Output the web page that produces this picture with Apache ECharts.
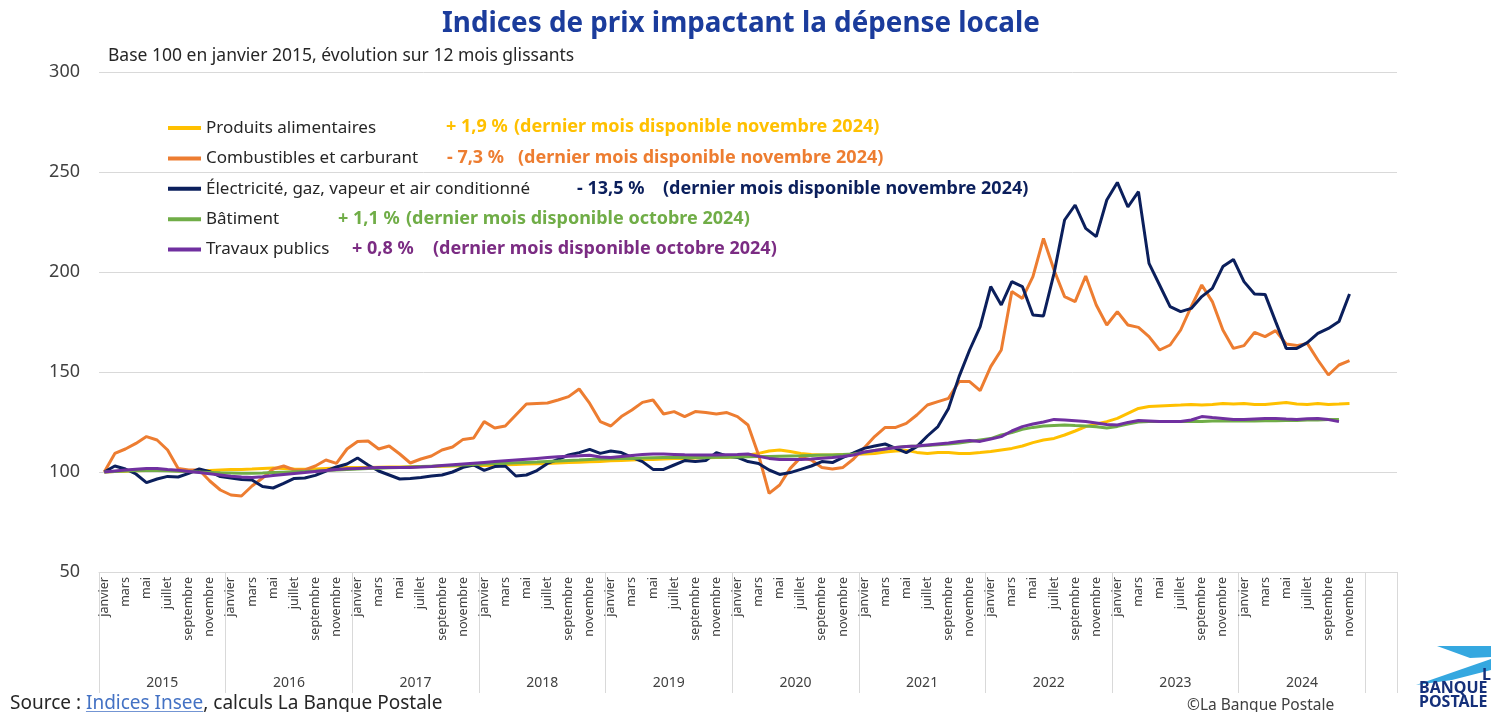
<!DOCTYPE html>
<html>
<head>
<meta charset="utf-8">
<script src="https://cdn.jsdelivr.net/npm/echarts@6/dist/echarts.min.js"></script>
<style>
  html, body { margin: 0; padding: 0; background: #fff; }
  #chart { width: 1491px; height: 712px; }
</style>
</head>
<body>
<div id="chart"></div>
<script>
// mois et années de l'axe
const months = ['janvier', 'février', 'mars', 'avril', 'mai', 'juin', 'juillet', 'août', 'septembre', 'octobre', 'novembre', 'décembre']
const years = ['2015', '2016', '2017', '2018', '2019', '2020', '2021', '2022', '2023', '2024']

// indices base 100 janvier 2015
const alimentaires = [
  100, 100.2, 100.4, 100.6, 100.8, 100.8, 100.7, 100.6, 100.5, 100.6, 100.8, 101, 101.2, 101.3, 101.5, 101.8, 102, 101.8, 101.5, 101.4, 101.5, 101.8, 102, 102.2,
  102.2, 102.3, 102.4, 102.5, 102.5, 102.6, 102.7, 102.8, 102.9, 103, 103.1, 103.2, 103.3, 103.4, 103.6, 103.8, 104, 104.1, 104.3, 104.5, 104.7, 104.9, 105.1, 105.3,
  105.6, 105.8, 106, 106.2, 106.3, 106.5, 106.7, 106.8, 107, 107.1, 107.2, 107.3, 107.8, 108.5, 109.3, 110.5, 111, 110.2, 109.3, 108.7, 108.5, 108.5, 108.7, 108.8,
  109, 109.3, 110, 110.5, 110.8, 109.8, 109.3, 109.8, 109.7, 109.2, 109.3, 109.7, 110.2, 111, 111.8, 113, 114.7, 116, 116.8, 118.5, 120.5, 122.7, 124, 125.2,
  126.8, 129.3, 131.8, 132.7, 133, 133.3, 133.5, 133.8, 133.5, 133.8, 134.3, 134, 134.3, 133.8, 133.8, 134.3, 134.7, 134, 133.8, 134.3, 133.8, 134, 134.3
]
const combustibles = [
  100, 109.3, 111.5, 114.3, 117.7, 116, 111, 101.8, 101, 101, 95.5, 91, 88.5, 88, 93, 97, 101.5, 103, 101, 101, 103, 106, 104.3, 111.5,
  115.2, 115.5, 111.5, 113, 109, 104.5, 106.5, 108, 111, 112.5, 116.3, 117, 125.2, 122, 123, 128.5, 134, 134.3, 134.5, 136, 137.7, 141.5, 134.3, 125.2,
  123, 127.7, 131, 134.8, 136, 129, 130.2, 127.7, 130.2, 129.8, 129, 129.7, 127.7, 123.5, 108.5, 89.3, 93.5, 101.8, 107.3, 106, 102.3, 101.5, 102.3, 106.5,
  112, 117.7, 122.3, 122.3, 124.3, 128.5, 133.5, 135.2, 136.8, 145.2, 145.2, 140.7, 152.7, 161, 190.2, 186.8, 197.7, 216.8, 201, 187.7, 185.2, 198, 183.5, 173.5,
  180.2, 173.5, 172.3, 167.7, 161, 163.5, 171, 182.7, 193.5, 185.2, 171, 161.8, 163.2, 169.8, 167.7, 170.7, 164, 163.2, 164.3, 156, 148.5, 153.5, 155.7
]
const electricite = [
  100, 103, 101.5, 99, 94.7, 96.5, 97.8, 97.5, 99.3, 101.5, 100.2, 97.7, 97, 96.3, 96, 92.7, 92, 94.3, 96.8, 97, 98.3, 100.5, 102.5, 104,
  107, 103.5, 100.5, 98.5, 96.5, 96.8, 97.3, 98, 98.5, 100, 102.3, 103.5, 100.8, 102.7, 103, 98, 98.5, 100.7, 104.3, 106.3, 108.5, 109.7, 111.3, 109.3,
  110.5, 109.7, 107.3, 105.2, 101.3, 101.3, 103.5, 105.7, 105.2, 105.7, 109.7, 108, 107.3, 105.2, 104.3, 101, 98.8, 99.7, 101.3, 103, 105.2, 104.7, 107.3, 109.5,
  111.8, 113, 114, 111.8, 109.7, 112.7, 118, 122.7, 131.8, 147.7, 161, 172.7, 192.7, 183.5, 195.2, 192.7, 178.5, 178, 199.3, 226, 233.5, 221.8, 217.7, 236,
  244.8, 232.5, 240.2, 204.3, 193.5, 182.7, 180.2, 181.8, 187.7, 191.8, 202.7, 206.3, 195.2, 189, 188.8, 175.2, 161.8, 161.8, 164.7, 169.3, 171.8, 175.2, 189
]
const batiment = [
  100, 100.3, 100.5, 100.7, 100.8, 100.8, 100.6, 100.4, 100.2, 100, 99.8, 99.6, 99.5, 99.4, 99.4, 99.5, 99.7, 99.9, 100.1, 100.3, 100.5, 100.8, 101, 101.3,
  101.5, 101.7, 101.9, 102.1, 102.3, 102.5, 102.7, 102.9, 103.1, 103.3, 103.5, 103.7, 104, 104.2, 104.4, 104.6, 104.8, 105, 105.3, 105.5, 105.8, 106, 106.3, 106.5,
  106.6, 106.7, 106.8, 107, 107.1, 107.2, 107.3, 107.3, 107.3, 107.3, 107.4, 107.4, 107.5, 107.6, 107.7, 107.8, 107.9, 108, 108.1, 108.3, 108.5, 108.5, 108.7, 109,
  109.8, 110.7, 111.5, 112.3, 112.8, 113, 113.3, 113.6, 114, 114.5, 115.2, 116, 116.7, 118.5, 119.7, 121.3, 122.3, 123, 123.3, 123.5, 123.2, 123, 122.6, 122,
  122.8, 124, 125, 125.2, 125.2, 125.2, 125.2, 125.3, 125.3, 125.5, 125.5, 125.5, 125.5, 125.5, 125.6, 125.6, 125.8, 125.8, 126, 126, 126.2, 126.3
]
const travauxPublics = [
  100, 100.5, 101, 101.4, 101.8, 101.8, 101.3, 100.9, 100.3, 99.7, 99.1, 98.5, 97.9, 97.5, 97.3, 97.6, 98.2, 98.8, 99.3, 99.7, 100.2, 100.7, 101.2, 101.6,
  101.8, 102, 102.2, 102.3, 102.3, 102.3, 102.5, 102.8, 103.2, 103.6, 104, 104.4, 104.8, 105.2, 105.6, 106, 106.4, 106.8, 107.2, 107.6, 107.9, 108.1, 108.4, 107.5,
  107.3, 107.8, 108.3, 108.7, 109, 109, 108.8, 108.6, 108.5, 108.5, 108.5, 108.6, 108.7, 109, 107.8, 106.8, 106.3, 106.3, 106.3, 106.5, 106.9, 107.3, 107.8, 108.5,
  110, 110.8, 111.5, 112.2, 112.7, 113, 113.5, 114, 114.5, 115.2, 115.7, 115.3, 116.5, 117.7, 120.5, 122.7, 124, 125, 126.3, 126, 125.6, 125.2, 124.5, 123.8,
  123.5, 124.8, 125.7, 125.5, 125.2, 125.2, 125.2, 126, 127.7, 127.2, 126.8, 126.2, 126.3, 126.5, 126.7, 126.8, 126.5, 126.3, 126.6, 126.8, 126.2, 125.2
]

const seriesNames = ['Produits alimentaires', 'Combustibles et carburant', 'Électricité, gaz, vapeur et air conditionné', 'Bâtiment', 'Travaux publics']
const seriesData = [alimentaires, combustibles, electricite, batiment, travauxPublics]
const colors = ['#FFC000', '#ED7D31', '#0B1F5C', '#70AD47', '#7030A0']
const noteColors = ['#FFC000', '#ED7D31', '#0B1F5C', '#70AD47', '#7B2C83']

// annotations de la légende
const variations = ['+ 1,9 %', '- 7,3 %', '- 13,5 %', '+ 1,1 %', '+ 0,8 %']
const derniersMois = ['novembre 2024', 'novembre 2024', 'novembre 2024', 'octobre 2024', 'octobre 2024']
const varX = [446, 447, 577, 338, 352]
const noteX = [514, 518, 663, 406, 433]
const rowY = [127, 158, 189, 219, 249]

// axe : 10 ans + 3 mois vides à droite
const categories = []
years.forEach(() => months.forEach(m => categories.push(m)))
categories.push('', '', '')

const FONT = '"Noto Sans", sans-serif'
const chart = echarts.init(document.getElementById('chart'))

let graphics = []
seriesNames.forEach((name, i) => {
  graphics.push({
    type: 'text', x: varX[i], y: rowY[i],
    style: { text: variations[i], fill: noteColors[i], font: 'bold 18px ' + FONT, verticalAlign: 'middle' }
  })
  graphics.push({
    type: 'text', x: noteX[i], y: rowY[i],
    style: { text: '(dernier mois disponible ' + derniersMois[i] + ')', fill: noteColors[i], font: 'bold 18px ' + FONT, verticalAlign: 'middle' }
  })
})

// ligne de source avec lien souligné
let measure = document.createElement('canvas').getContext('2d')
measure.font = '19px ' + FONT
let w1 = measure.measureText('Source : ').width
let w2 = measure.measureText('Indices Insee').width
graphics.push(
  { type: 'text', x: 10, y: 704, style: { text: 'Source : ', fill: '#262626', font: '19px ' + FONT, verticalAlign: 'middle' } },
  { type: 'text', x: 10 + w1, y: 704, style: { text: 'Indices Insee', fill: '#4472C4', font: '19px ' + FONT, verticalAlign: 'middle' } },
  { type: 'line', shape: { x1: 10 + w1, y1: 712, x2: 10 + w1 + w2, y2: 712 }, style: { stroke: '#4472C4', lineWidth: 1.5 } },
  { type: 'text', x: 10 + w1 + w2, y: 704, style: { text: ', calculs La Banque Postale', fill: '#262626', font: '19px ' + FONT, verticalAlign: 'middle' } },
  { type: 'text', x: 1187, y: 706, style: { text: '©La Banque Postale', fill: '#404040', font: '15.5px ' + FONT, verticalAlign: 'middle' } },
  { type: 'text', x: 108, y: 56, style: { text: 'Base 100 en janvier 2015, évolution sur 12 mois glissants', fill: '#262626', font: '17.5px ' + FONT, verticalAlign: 'middle' } }
)

// logo (approximatif)
graphics.push(
  { type: 'polygon', shape: { points: [[1437, 646], [1491, 646], [1491, 657], [1470, 658]] }, style: { fill: '#35A8E0' } },
  { type: 'polygon', shape: { points: [[1416, 685], [1491, 659], [1491, 670], [1452, 680]] }, style: { fill: '#35A8E0' } },
  { type: 'text', x: 1482, y: 675, style: { text: 'LA', fill: '#15307A', font: 'bold 16px ' + FONT, verticalAlign: 'middle' } },
  { type: 'text', x: 1419, y: 688, style: { text: 'BANQUE', fill: '#15307A', font: 'bold 16px ' + FONT, verticalAlign: 'middle' } },
  { type: 'text', x: 1419, y: 702, style: { text: 'POSTALE', fill: '#15307A', font: 'bold 16px ' + FONT, verticalAlign: 'middle' } }
)

let option = {
  animation: false,
  backgroundColor: '#fff',
  title: {
    text: 'Indices de prix impactant la dépense locale',
    left: 442,
    top: 10,
    padding: 0,
    textStyle: { color: '#1B3C9C', fontSize: 27.8, fontWeight: 'bold', fontFamily: FONT }
  },
  legend: {
    orient: 'vertical',
    left: 168,
    top: 118,
    padding: 0,
    itemWidth: 33,
    itemHeight: 4,
    itemGap: 10.4,
    icon: 'rect',
    data: seriesNames,
    textStyle: { fontSize: 17, color: '#262626', fontFamily: FONT, lineHeight: 20 }
  },
  grid: { left: 99, right: 94, top: 72, bottom: 140 },
  xAxis: [
    {
      type: 'category',
      data: categories,
      boundaryGap: true,
      axisLine: { lineStyle: { color: '#D9D9D9' } },
      axisTick: {
        show: true,
        interval: 11,
        length: 121,
        lineStyle: { color: '#D9D9D9' }
      },
      axisLabel: {
        interval: 1,
        rotate: 90,
        margin: 5,
        fontSize: 12.5,
        color: '#404040',
        fontFamily: FONT
      },
      splitLine: { show: false }
    },
    {
      // années, centrées sur chaque groupe de 12 mois
      type: 'value',
      position: 'bottom',
      min: 0,
      max: 123,
      interval: 6,
      axisLine: { show: false },
      axisTick: { show: false },
      splitLine: { show: false },
      axisLabel: {
        margin: 104,
        fontSize: 14,
        color: '#404040',
        fontFamily: FONT,
        formatter: (v) => (v % 12 === 6 ? years[(v - 6) / 12] : '')
      }
    }
  ],
  yAxis: {
    type: 'value',
    min: 50,
    max: 300,
    interval: 50,
    axisLine: { show: false },
    axisTick: { show: false },
    axisLabel: { margin: 19, fontSize: 18, color: '#404040', fontFamily: FONT },
    splitLine: { lineStyle: { color: '#D9D9D9' } }
  },
  graphic: graphics,
  series: seriesNames.map((name, i) => ({
    name: name,
    type: 'line',
    xAxisIndex: 0,
    data: seriesData[i],
    symbol: 'none',
    lineStyle: { width: 3, color: colors[i] },
    itemStyle: { color: colors[i] }
  }))
}

chart.setOption(option)
</script>
</body>
</html>
